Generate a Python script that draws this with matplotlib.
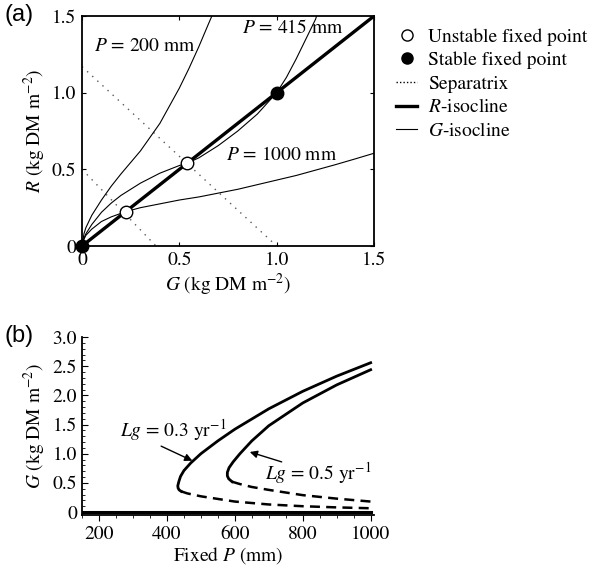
import matplotlib
matplotlib.use("Agg")
import matplotlib.pyplot as plt
from matplotlib.lines import Line2D
from matplotlib.ticker import MultipleLocator

plt.rcParams['font.family'] = ['STIXGeneral', 'DejaVu Serif']
plt.rcParams['mathtext.fontset'] = 'stix'
plt.rcParams['font.size'] = 14

# ---- panel (a): phase plane ----
# G-isoclines (G, R)
g200 = [0, 0.01, 0.02, 0.05, 0.1, 0.15, 0.2, 0.3, 0.4, 0.5, 0.55, 0.6, 0.65, 0.667]
r200 = [0, 0.08, 0.12, 0.2, 0.3, 0.39, 0.47, 0.62, 0.8, 1.03, 1.16, 1.3, 1.45, 1.5]
g415 = [0, 0.01, 0.02, 0.05, 0.1, 0.15, 0.2, 0.3, 0.4, 0.5, 0.54, 0.6, 0.7, 0.8, 0.9,
        1.0, 1.05, 1.1, 1.15, 1.2, 1.205]
r415 = [0, 0.05, 0.08, 0.14, 0.22, 0.28, 0.33, 0.41, 0.475, 0.525, 0.54, 0.575, 0.655,
        0.75, 0.86, 1.0, 1.1, 1.22, 1.35, 1.48, 1.5]
g1000 = [0, 0.01, 0.02, 0.05, 0.1, 0.15, 0.224, 0.3, 0.4, 0.5, 0.6, 0.7, 0.8, 0.9,
         1.0, 1.1, 1.2, 1.3, 1.4, 1.5]
r1000 = [0, 0.045, 0.07, 0.11, 0.16, 0.19, 0.224, 0.25, 0.275, 0.3, 0.32, 0.345, 0.37,
         0.4, 0.43, 0.46, 0.495, 0.53, 0.567, 0.605]
r_iso = [0, 1.5]
sep1_g, sep1_r = [0, 0.38], [0.5, 0]
sep2_g, sep2_r = [0, 1.0], [1.17, 0]
unstable_g = [0.224, 0.54]
stable_g = [0, 1.0]
iso_labels = [(0.06, 1.3, r'$P$ = 200 mm'), (0.82, 1.42, r'$P$ = 415 mm'),
              (0.74, 0.595, r'$P$ = 1000 mm')]

# ---- panel (b): bifurcation diagram ----
p03_up = [1000, 900, 800, 700, 600, 550, 500, 470, 450, 440, 435, 432, 433, 436, 442]
g03_up = [2.56, 2.33, 2.07, 1.77, 1.42, 1.22, 1.0, 0.84, 0.71, 0.61, 0.52, 0.45, 0.41, 0.38, 0.355]
p03_dn = [442, 460, 500, 600, 700, 800, 900, 1000]
g03_dn = [0.355, 0.32, 0.27, 0.18, 0.13, 0.1, 0.08, 0.065]
p05_up = [1000, 900, 800, 700, 650, 615, 595, 583, 578, 578, 582, 592]
g05_up = [2.44, 2.18, 1.87, 1.48, 1.22, 1.0, 0.86, 0.76, 0.68, 0.62, 0.57, 0.52]
p05_dn = [592, 615, 650, 700, 800, 900, 1000]
g05_dn = [0.52, 0.48, 0.43, 0.38, 0.29, 0.23, 0.18]
p_zero = [150, 1000]

fig = plt.figure(figsize=(6, 5.72), dpi=100)

ax = fig.add_axes([0.1367, 0.5699, 0.4867, 0.4021])
ax.plot(sep1_g, sep1_r, color='0.35', lw=1, ls=(0, (1, 4)))
ax.plot(sep2_g, sep2_r, color='0.35', lw=1, ls=(0, (1, 4)))
for gg, rr in [(g200, r200), (g415, r415), (g1000, r1000)]:
    ax.plot(gg, rr, color='black', lw=0.8)
ax.plot(r_iso, r_iso, color='black', lw=2.4)
ax.plot(unstable_g, unstable_g, 'o', ms=9, mfc='white', mec='black', mew=1, clip_on=False)
ax.plot(stable_g, stable_g, 'o', ms=9, mfc='black', mec='black', clip_on=False, zorder=5)
for x, y, s in iso_labels:
    ax.text(x, y, s, fontsize=14, ha='left', va='center')
ax.set_xlim(0, 1.5)
ax.set_ylim(0, 1.5)
ax.set_xticks([0, 0.5, 1.0, 1.5])
ax.set_xticklabels(['0', '0.5', '1.0', '1.5'])
ax.set_yticks([0, 0.5, 1.0, 1.5])
ax.set_yticklabels(['0', '0.5', '1.0', '1.5'])
ax.tick_params(direction='in', top=True, right=True, length=3, width=0.8, labelsize=14, pad=4)
for sp in ax.spines.values():
    sp.set_linewidth(1.3)
ax.set_xlabel(r'$G$ (kg DM m$^{-2}$)', fontsize=14, labelpad=2)
ax.set_ylabel(r'$R$ (kg DM m$^{-2}$)', fontsize=14, labelpad=3)

handles = [
    Line2D([], [], ls='none', marker='o', ms=8, mfc='white', mec='black', mew=1),
    Line2D([], [], ls='none', marker='o', ms=8, mfc='black', mec='black'),
    Line2D([], [], color='black', lw=1, ls=(0, (1, 1.5))),
    Line2D([], [], color='black', lw=2.4),
    Line2D([], [], color='black', lw=0.8),
]
labels = ['Unstable fixed point', 'Stable fixed point', 'Separatrix',
          r'$R$-isocline', r'$G$-isocline']
fig.legend(handles, labels, loc='upper left', bbox_to_anchor=(0.637, 0.975),
           frameon=False, fontsize=14, handlelength=1.1, handletextpad=0.55,
           labelspacing=0.3, borderpad=0.2)

fig.text(0.008, 0.973, '(a)', family='Liberation Sans', fontsize=17, va='center')
fig.text(0.008, 0.412, '(b)', family='Liberation Sans', fontsize=17, va='center')

bx = fig.add_axes([0.1367, 0.0997, 0.4867, 0.311])
bx.plot(p_zero, [0, 0], color='black', lw=2.2)
bx.plot(p03_up, g03_up, color='black', lw=2)
bx.plot(p05_up, g05_up, color='black', lw=2)
bx.plot(p03_dn, g03_dn, color='black', lw=1.8, ls=(0, (4, 2.5)))
bx.plot(p05_dn, g05_dn, color='black', lw=1.8, ls=(0, (4, 2.5)))
arrow = dict(arrowstyle='-|>', color='black', lw=1, mutation_scale=11, shrinkA=0, shrinkB=0)
bx.annotate('', xy=(475, 0.88), xytext=(383, 1.13), arrowprops=arrow)
bx.annotate('', xy=(644, 1.03), xytext=(738, 0.86), arrowprops=arrow)
bx.text(419, 1.41, r'$Lg$ = 0.3 yr$^{-1}$', ha='center', va='center', fontsize=14)
bx.text(846, 0.67, r'$Lg$ = 0.5 yr$^{-1}$', ha='center', va='center', fontsize=14)
bx.set_xlim(150, 1010)
bx.set_ylim(-0.05, 3.0)
bx.spines['top'].set_visible(False)
bx.spines['right'].set_visible(False)
bx.spines['left'].set_linewidth(1.3)
bx.spines['bottom'].set_linewidth(1.3)
bx.set_xticks([200, 400, 600, 800, 1000])
bx.set_yticks([0, 0.5, 1.0, 1.5, 2.0, 2.5, 3.0])
bx.set_yticklabels(['0', '0.5', '1.0', '1.5', '2.0', '2.5', '3.0'])
bx.xaxis.set_minor_locator(MultipleLocator(50))
bx.yaxis.set_minor_locator(MultipleLocator(0.1))
bx.tick_params(axis='x', which='both', direction='out', labelsize=14)
bx.tick_params(axis='y', which='both', direction='in', labelsize=14)
bx.tick_params(which='major', length=4, width=0.8)
bx.tick_params(which='minor', length=2.5, width=0.6)
bx.set_xlabel(r'Fixed $P$ (mm)', fontsize=14, labelpad=2)
bx.set_ylabel(r'$G$ (kg DM m$^{-2}$)', fontsize=14, labelpad=3)

fig.savefig('out.png', dpi=100)
